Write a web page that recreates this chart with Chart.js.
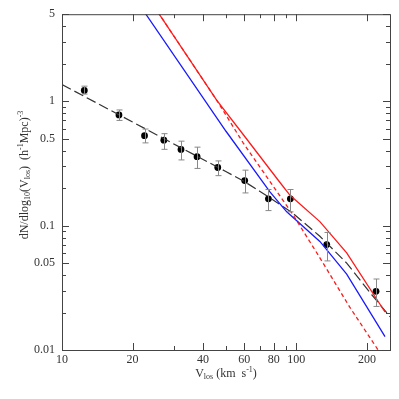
<!DOCTYPE html>
<html>
<head>
<meta charset="utf-8">
<script src="https://cdn.jsdelivr.net/npm/chart.js@4/dist/chart.umd.min.js"></script>
<style>
  body { margin: 0; background: #fff; }
  #wrap { width: 399px; height: 399px; }
</style>
</head>
<body>
<div id="wrap"><canvas id="myChart" width="399" height="399"></canvas></div>
<script>
// data
const obsV = [12.45, 17.5, 22.5, 27.2, 32.2, 37.7, 46.2, 60.2, 76.0, 94.3, 134.8, 218.8];
const obsN = [1.22, 0.775, 0.528, 0.486, 0.409, 0.358, 0.293, 0.230, 0.164, 0.164, 0.0703, 0.0296];
const obsHi = [1.32, 0.85, 0.597, 0.548, 0.477, 0.427, 0.331, 0.279, 0.195, 0.195, 0.088, 0.0372];
const obsLo = [1.14, 0.70, 0.462, 0.41, 0.337, 0.288, 0.252, 0.183, 0.132, 0.129, 0.052, 0.0224];

const fitV = [10, 20, 30, 40, 50, 60, 70, 82, 97, 126, 164, 206, 251];
const fitN = [1.36, 0.68, 0.453, 0.34, 0.272, 0.226, 0.188, 0.155, 0.125, 0.082, 0.05, 0.029, 0.0185];

const redV = [22, 26, 45.7, 60, 85, 94, 126, 164, 239];
const redN = [8.0, 5.0, 1.02, 0.525, 0.223, 0.175, 0.1076, 0.0604, 0.0202];

const redDashV = [22, 26, 45.7, 59.4, 80, 97, 126, 169, 230];
const redDashN = [8.0, 5.0, 1.02, 0.46, 0.205, 0.1215, 0.0551, 0.0221, 0.0092];

const blueV = [20, 22.8, 50.1, 77.3, 91, 126, 164, 239];
const blueN = [7.2, 5.0, 0.573, 0.186, 0.129, 0.0746, 0.0407, 0.0128];

// axis ticks
const xTicks = [10, 20, 30, 40, 50, 60, 70, 80, 90, 100, 200];
const xLabels = [10, 20, 40, 60, 80, 100, 200];
const yTicks = [0.01, 0.02, 0.03, 0.04, 0.05, 0.06, 0.07, 0.08, 0.09,
  0.1, 0.2, 0.3, 0.4, 0.5, 0.6, 0.7, 0.8, 0.9, 1, 2, 3, 4, 5];
const yLabels = [0.01, 0.05, 0.1, 0.5, 1, 5];

const pts = (xs, ys) => xs.map((x, i) => ({ x: x, y: ys[i] }));

const inkColor = '#444';
const serif = '"Liberation Serif", "DejaVu Serif", serif';

// draws a string made of [text, mode] pieces, mode: 0 normal, -1 sub, 1 sup
function drawRich(ctx, parts, size) {
  const small = Math.round(size * 0.68);
  let w = 0;
  parts.forEach(p => {
    ctx.font = (p[1] ? small : size) + 'px ' + serif;
    w += ctx.measureText(p[0]).width;
  });
  let x = -w / 2;
  parts.forEach(p => {
    ctx.font = (p[1] ? small : size) + 'px ' + serif;
    const dy = p[1] === -1 ? 3 : (p[1] === 1 ? -4 : 0);
    ctx.fillText(p[0], x, dy);
    x += ctx.measureText(p[0]).width;
  });
}

// frame, inward ticks, error bars and axis titles
const frameAndBars = {
  id: 'frameAndBars',
  afterDatasetsDraw(chart) {
    const { ctx, scales: { x, y } } = chart;
    ctx.save();

    // error bars
    ctx.strokeStyle = '#888';
    ctx.lineWidth = 1;
    obsV.forEach((v, i) => {
      const px = Math.round(x.getPixelForValue(v)) + 0.5;
      const y1 = y.getPixelForValue(obsHi[i]);
      const y2 = y.getPixelForValue(obsLo[i]);
      ctx.beginPath();
      ctx.moveTo(px, y1); ctx.lineTo(px, y2);
      ctx.moveTo(px - 3, y1); ctx.lineTo(px + 3, y1);
      ctx.moveTo(px - 3, y2); ctx.lineTo(px + 3, y2);
      ctx.stroke();
    });
    ctx.restore();
  },
  afterDraw(chart) {
    const { ctx, chartArea: { top, bottom, left, right }, scales: { x, y } } = chart;
    ctx.save();
    ctx.strokeStyle = inkColor;
    ctx.lineWidth = 1;
    ctx.strokeRect(left + 0.5, top + 0.5, right - left, bottom - top);

    ctx.beginPath();
    xTicks.forEach(v => {
      const px = Math.round(x.getPixelForValue(v)) + 0.5;
      const len = xLabels.includes(v) ? 7 : 4;
      ctx.moveTo(px, bottom); ctx.lineTo(px, bottom - len);
      ctx.moveTo(px, top); ctx.lineTo(px, top + len);
    });
    yTicks.forEach(v => {
      const py = Math.round(y.getPixelForValue(v)) + 0.5;
      const len = yLabels.includes(v) ? 7 : 4;
      ctx.moveTo(left, py); ctx.lineTo(left + len, py);
      ctx.moveTo(right, py); ctx.lineTo(right - len, py);
    });
    ctx.stroke();

    // axis titles
    ctx.fillStyle = '#333';
    ctx.textBaseline = 'middle';
    ctx.textAlign = 'left';
    ctx.save();
    ctx.translate((left + right) / 2, 374);
    drawRich(ctx, [['V', 0], ['los', -1], [' (km  s', 0], ['-1', 1], [')', 0]], 12);
    ctx.restore();

    ctx.save();
    ctx.translate(25, 175);
    ctx.rotate(-Math.PI / 2);
    drawRich(ctx, [['dN/dlog', 0], ['10', -1], ['(V', 0], ['los', -1], [')  (h', 0],
      ['-1', 1], ['Mpc)', 0], ['-3', 1]], 12);
    ctx.restore();

    ctx.restore();
  }
};

const config = {
  type: 'scatter',
  data: {
    datasets: [
      {
        label: 'model red',
        data: pts(redV, redN),
        showLine: true,
        borderColor: '#ff1a1a',
        borderWidth: 1.3,
        pointRadius: 0
      },
      {
        label: 'model red dashed',
        data: pts(redDashV, redDashN),
        showLine: true,
        borderColor: '#ff1a1a',
        borderWidth: 1.3,
        borderDash: [4, 3],
        pointRadius: 0
      },
      {
        label: 'model blue',
        data: pts(blueV, blueN),
        showLine: true,
        borderColor: '#1a1aff',
        borderWidth: 1.3,
        pointRadius: 0
      },
      {
        label: 'fit',
        data: pts(fitV, fitN),
        showLine: true,
        borderColor: '#333',
        borderWidth: 1.2,
        borderDash: [10, 4],
        pointRadius: 0
      },
      {
        label: 'observed',
        data: pts(obsV, obsN),
        showLine: false,
        pointRadius: 3.4,
        pointBackgroundColor: '#000',
        pointBorderColor: '#000',
        pointBorderWidth: 0
      }
    ]
  },
  options: {
    responsive: false,
    animation: false,
    layout: { padding: { left: 0, top: 10, right: 9, bottom: 0 } },
    plugins: {
      legend: { display: false },
      tooltip: { enabled: false }
    },
    scales: {
      x: {
        type: 'logarithmic',
        min: 10,
        max: 251,
        grid: { display: false, drawTicks: false },
        border: { display: false },
        afterBuildTicks: s => { s.ticks = xTicks.map(v => ({ value: v })); },
        afterFit: s => { s.height = 49; },
        ticks: {
          autoSkip: false,
          maxRotation: 0,
          padding: 3,
          color: '#333',
          font: { family: serif, size: 12 },
          callback: v => xLabels.includes(v) ? String(v) : ''
        }
      },
      y: {
        type: 'logarithmic',
        min: 0.01,
        max: 5,
        grid: { display: false, drawTicks: false },
        border: { display: false },
        afterBuildTicks: s => { s.ticks = yTicks.map(v => ({ value: v })); },
        afterFit: s => { s.width = 62; },
        ticks: {
          autoSkip: false,
          padding: 7,
          color: '#333',
          font: { family: serif, size: 12 },
          callback: v => yLabels.includes(v) ? String(v) : ''
        }
      }
    }
  },
  plugins: [frameAndBars]
};

const myChart = new Chart(document.getElementById('myChart'), config);
</script>
</body>
</html>
